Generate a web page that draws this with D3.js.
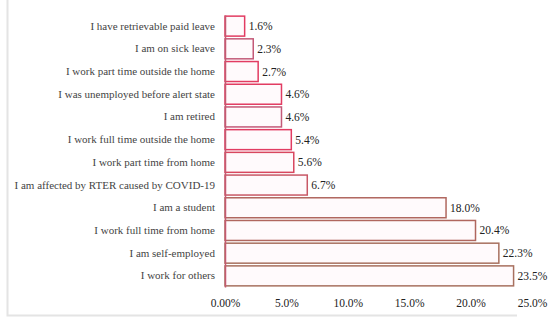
<!DOCTYPE html>
<html>
<head>
<meta charset="utf-8">
<script src="https://cdn.jsdelivr.net/npm/d3@7"></script>
<style>
  body { margin: 0; background: #fff; }
  svg { display: block; }
</style>
</head>
<body>
<script>
// categories top to bottom
let categories = [
    "I have retrievable paid leave",
    "I am on sick leave",
    "I work part time outside the home",
    "I was unemployed before alert state",
    "I am retired",
    "I work full time outside the home",
    "I work part time from home",
    "I am affected by RTER caused by COVID-19",
    "I am a student",
    "I work full time from home",
    "I am self-employed",
    "I work for others"
];
let values = [1.6, 2.3, 2.7, 4.6, 4.6, 5.4, 5.6, 6.7, 18.0, 20.4, 22.3, 23.5];
let tickValues = [0, 5, 10, 15, 20, 25];
let tickLabels = ["0.00%", "5.0%", "10.0%", "15.0%", "20.0%", "25.0%"];

let strokes = ["#e23c62", "#c45a78", "#e23c62", "#e23c62", "#c45a78", "#e23c62",
               "#d8475f", "#c85866", "#b0675f", "#b0675f", "#a8705f", "#a8705f"];

let data = categories.map((c, i) => ({ cat: c, val: values[i] }));

let svg = d3.select("body").append("svg")
    .attr("width", 550)
    .attr("height", 321);

// light frame
svg.append("path")
    .attr("d", "M7.5,0 V315.5 H517")
    .attr("fill", "none")
    .attr("stroke", "#e4e4e4")
    .attr("stroke-width", 2);

let xScale = d3.scaleLinear().domain([0, 25]).range([225, 532]);
let yScale = d3.scaleBand().domain(categories).range([15, 287]).paddingInner(0.12).paddingOuter(0.05);

let font = "'Liberation Serif', 'DejaVu Serif', serif";

svg.selectAll("rect.bar")
    .data(data)
    .enter()
    .append("rect")
    .attr("class", "bar")
    .attr("x", xScale(0))
    .attr("y", d => yScale(d.cat))
    .attr("width", d => xScale(d.val) - xScale(0))
    .attr("height", yScale.bandwidth())
    .attr("fill", "#fffafc")
    .attr("stroke", (d, i) => strokes[i])
    .attr("stroke-width", 1.5);

svg.selectAll("text.val")
    .data(data)
    .enter()
    .append("text")
    .attr("class", "val")
    .attr("x", d => xScale(d.val) + 4)
    .attr("y", d => yScale(d.cat) + yScale.bandwidth() / 2)
    .attr("dy", "0.35em")
    .style("font-family", font)
    .style("font-size", "11.5px")
    .attr("fill", "#222")
    .text(d => d.val.toFixed(1) + "%");

// category axis
let yAxis = d3.axisLeft(yScale).tickSize(0).tickPadding(10);
let gy = svg.append("g")
    .attr("transform", `translate(${xScale(0)},0)`)
    .call(yAxis);
gy.select(".domain").attr("stroke", "#c45a70").attr("stroke-width", 1.5);
gy.selectAll("text")
    .style("font-family", font)
    .style("font-size", "11px")
    .attr("fill", "#444");

// value axis (labels only)
let xAxis = d3.axisBottom(xScale)
    .tickValues(tickValues)
    .tickFormat((d, i) => tickLabels[i])
    .tickSize(0)
    .tickPadding(0);
let gx = svg.append("g")
    .attr("transform", `translate(0,299)`)
    .call(xAxis);
gx.select(".domain").remove();
gx.selectAll("text")
    .style("font-family", font)
    .style("font-size", "11.5px")
    .attr("fill", "#222");
</script>
</body>
</html>
